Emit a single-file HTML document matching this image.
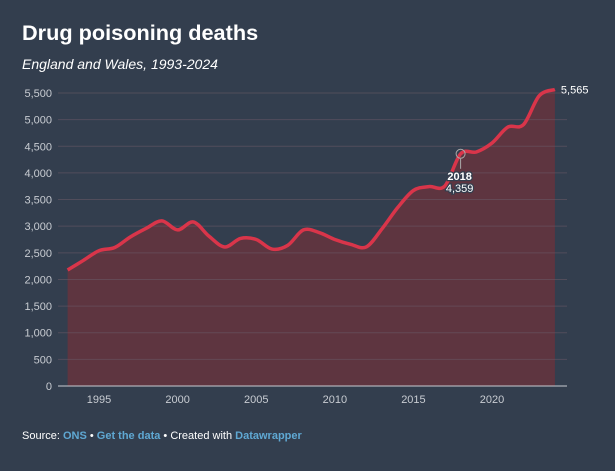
<!DOCTYPE html>
<html><head><meta charset="utf-8">
<style>
body{margin:0;background:#333e4e;font-family:"Liberation Sans",sans-serif;}
#wrap{position:relative;width:615px;height:471px;background:#333e4e;overflow:hidden}
h1{position:absolute;left:22px;top:20px;margin:0;font-size:21.7px;font-weight:bold;color:#fff}
.sub{position:absolute;left:22px;top:56px;font-size:14px;font-style:italic;color:#fff}
.foot{position:absolute;left:22px;top:430px;font-size:11px;color:#fff}
.foot a{color:#5fa8d3;text-decoration:none;font-weight:bold}
svg{position:absolute;left:0;top:0}
</style></head><body>
<div id="wrap">
<h1>Drug poisoning deaths</h1>
<div class="sub">England and Wales, 1993-2024</div>
<svg id="chart" width="615" height="471"></svg>
<div class="foot">Source: <a>ONS</a> • <a>Get the data</a> • Created with <a>Datawrapper</a></div>
</div>
<script>
const years=[1993,1994,1995,1996,1997,1998,1999,2000,2001,2002,2003,2004,2005,2006,2007,2008,2009,2010,2011,2012,2013,2014,2015,2016,2017,2018,2019,2020,2021,2022,2023,2024];
const deaths=[2178,2357,2540,2600,2800,2960,3100,2930,3080,2810,2610,2770,2750,2570,2640,2930,2880,2750,2660,2610,2950,3350,3670,3744,3756,4359,4393,4561,4859,4907,5448,5565];
const yTicks=[0,500,1000,1500,2000,2500,3000,3500,4000,4500,5000,5500];
const yTickLabels=["0","500","1,000","1,500","2,000","2,500","3,000","3,500","4,000","4,500","5,000","5,500"];
const xTicks=[1995,2000,2005,2010,2015,2020];
const NS="http://www.w3.org/2000/svg";
const svg=document.getElementById('chart');
const x=v=>67.6+(v-1993)*15.72;
const y=v=>386-v*(293/5500);
function mk(t,a){const e=document.createElementNS(NS,t);for(const k in a)e.setAttribute(k,a[k]);svg.appendChild(e);return e;}
const pts=years.map((yr,i)=>[x(yr),y(deaths[i])]);
let d='M'+pts[0][0]+','+pts[0][1];
for(let i=0;i<pts.length-1;i++){
 const p0=pts[i-1]||pts[i],p1=pts[i],p2=pts[i+1],p3=pts[i+2]||p2;
 const t=0.5/3;
 const c1=[p1[0]+(p2[0]-p0[0])*t,p1[1]+(p2[1]-p0[1])*t];
 const c2=[p2[0]-(p3[0]-p1[0])*t,p2[1]-(p3[1]-p1[1])*t];
 d+=' C'+c1+' '+c2+' '+p2;
}
const area=mk('path',{d:d+' L'+pts[pts.length-1][0]+','+y(0)+' L'+pts[0][0]+','+y(0)+'Z',fill:'#5e3540'});


yTicks.forEach((t,i)=>{
 if(t>0){const g=mk('line',{x1:58,x2:567,y1:y(t),y2:y(t),stroke:'#6a5a66','stroke-opacity':0.55,'stroke-width':1});
 
 }
 const l=mk('text',{x:52,y:y(t)+4,'text-anchor':'end','font-size':11,fill:'#c8ccd2'});
 l.textContent=yTickLabels[i];
 
 
});
xTicks.forEach(t=>{
 const l=mk('text',{x:x(t),y:403,'text-anchor':'middle','font-size':11,fill:'#c8ccd2'});
 l.textContent=t;
 
 
});
const base=mk('line',{x1:58,x2:567,y1:386,y2:386,stroke:'#c8ccd2','stroke-width':1});


const line=mk('path',{d:d,fill:'none',stroke:'#d9354a','stroke-width':3.5,'stroke-linejoin':'round'});


const ai=years.indexOf(2018);
const ax=x(2018),ay=y(deaths[ai]);
const lead=mk('line',{x1:ax,x2:ax,y1:ay+5,y2:ay+15,stroke:'#aaa','stroke-width':1});


const c=mk('circle',{cx:ax,cy:ay,r:4.5,fill:'none',stroke:'#aaa','stroke-width':1});


const t1=mk('text',{x:ax-1,y:ay+26,'text-anchor':'middle','font-size':11,'font-weight':'bold',fill:'#fff',stroke:'#333e4e','stroke-width':2.5,'paint-order':'stroke'});
t1.textContent=years[ai];


const t2=mk('text',{x:ax-1,y:ay+38,'text-anchor':'middle','font-size':11,fill:'#fff',stroke:'#333e4e','stroke-width':2.5,'paint-order':'stroke'});
t2.textContent=deaths[ai].toLocaleString('en-US');


const last=pts[pts.length-1];
const lv=mk('text',{x:last[0]+6,y:last[1]+4,'font-size':11,fill:'#fff'});
lv.textContent=deaths[deaths.length-1].toLocaleString('en-US');


</script>
</body></html>
